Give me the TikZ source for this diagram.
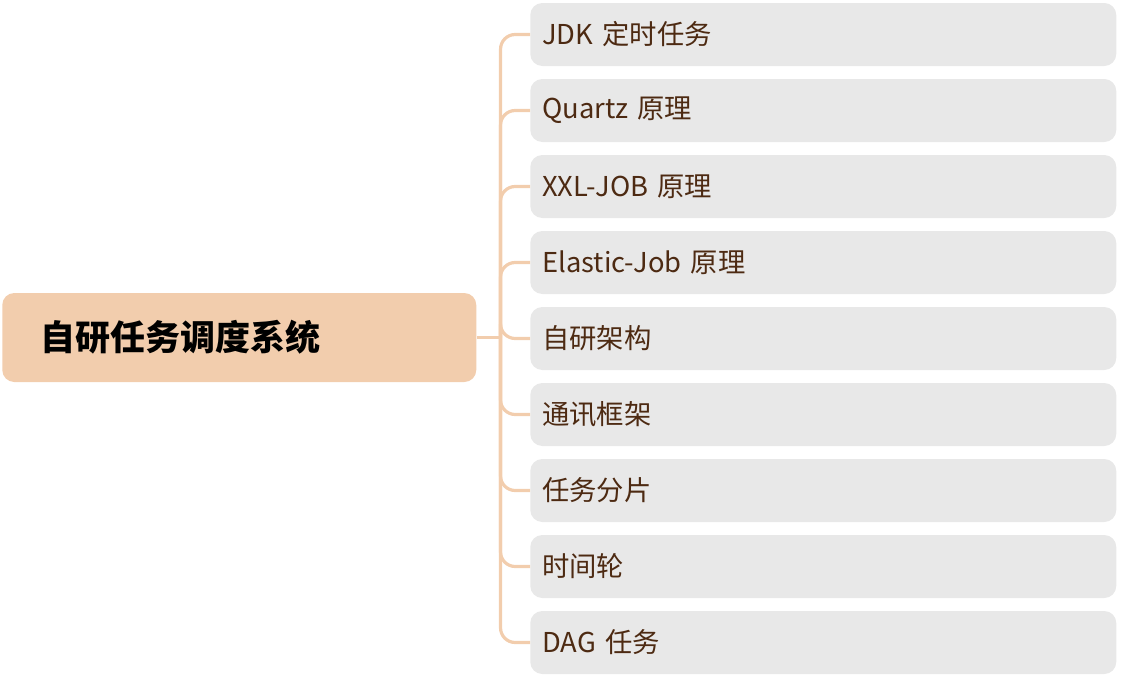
\documentclass[tikz,border=0pt]{standalone}
\usepackage{fontspec}
\setmainfont{Noto Sans CJK SC}
\usepackage{tikz}
\usetikzlibrary{calc}
\definecolor{rootfill}{HTML}{F2CDAD}
\definecolor{linkcol}{HTML}{F2CDAD}
\definecolor{leaffill}{HTML}{E8E8E8}
\definecolor{leaftext}{HTML}{4D2A12}
\tikzset{
	rootbox/.style={fill=rootfill, rounded corners=9pt, anchor=west, minimum height=66.75pt,
		inner xsep=28.5pt, text width=298.5pt, align=left, font=\fontsize{26.25}{30}\selectfont\bfseries},
	leafbox/.style={fill=leaffill, rounded corners=9pt, anchor=west, minimum height=47.25pt,
		inner xsep=9pt, text width=421.5pt, align=left, text=leaftext, font=\fontsize{20.5}{24}\selectfont},
	link/.style={draw=linkcol, line width=2.4pt, rounded corners=11pt}
}

\begin{document}
\begin{tikzpicture}[x=0.75pt, y=-0.75pt]
		%%%%% START %%%%%
		\useasboundingbox (0, 0) rectangle (1123, 678);
		
		\node[rootbox] (sched) at (2, 337.5) {自研任务调度系统};
		
		\node[leafbox] (jdk) at (530, 34.5) {JDK 定时任务};
		\node[leafbox] (quartz) at (530, 110.5) {Quartz 原理};
		\node[leafbox] (xxl) at (530, 186.5) {XXL-JOB 原理};
		\node[leafbox] (elastic) at (530, 262.5) {Elastic-Job 原理};
		\node[leafbox] (arch) at (530, 338.5) {自研架构};
		\node[leafbox] (comm) at (530, 414.5) {通讯框架};
		\node[leafbox] (shard) at (530, 490.5) {任务分片};
		\node[leafbox] (wheel) at (530, 566.5) {时间轮};
		\node[leafbox] (dag) at (530, 642.5) {DAG 任务};
		
		\coordinate (fork) at ($(sched.east)+(24, 0)$);
		\draw[link] (sched.east) -- (fork);
		
		\draw[link] (fork) |- (jdk.west);
		\draw[link] (fork) |- (quartz.west);
		\draw[link] (fork) |- (xxl.west);
		\draw[link] (fork) |- (elastic.west);
		\draw[link] (fork) |- (arch.west);
		\draw[link] (fork) |- (comm.west);
		\draw[link] (fork) |- (shard.west);
		\draw[link] (fork) |- (wheel.west);
		\draw[link] (fork) |- (dag.west);
		
		%%%%% END %%%%%
	\end{tikzpicture}
\end{document}
